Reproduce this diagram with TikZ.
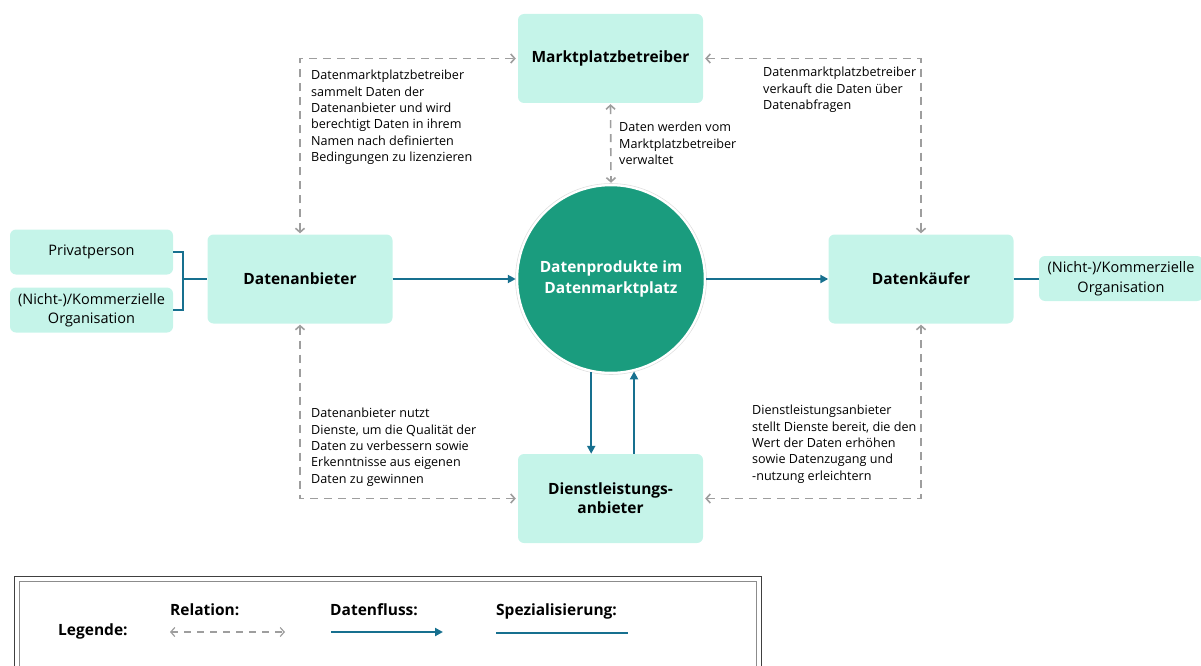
\documentclass[tikz,border=0pt]{standalone}
\usepackage{fontspec}
\setmainfont{Open Sans}
\usetikzlibrary{arrows.meta}
\definecolor{boxfill}{HTML}{C5F4E9}
\definecolor{circfill}{HTML}{1A9C7E}
\definecolor{flowc}{HTML}{17708F}
\definecolor{relc}{HTML}{9E9E9E}
\tikzset{
  ent/.style={fill=boxfill, rounded corners=6pt, minimum width=185pt, minimum height=89pt, inner sep=2pt, font=\fontsize{15.5}{19}\selectfont\bfseries, align=center},
  sub/.style={fill=boxfill, rounded corners=6pt, minimum width=163pt, minimum height=45pt, inner sep=1pt, font=\fontsize{14.5}{19.5}\selectfont, align=center},
  flow/.style={draw=flowc, line width=2pt, -{Triangle[length=8pt,width=8pt]}},
  spec/.style={draw=flowc, line width=2pt},
  rel/.style={draw=relc, line width=1.6pt, dash pattern=on 8pt off 6pt, {Straight Barb[length=4pt,width=9pt]}-{Straight Barb[length=4pt,width=9pt]}},
  note/.style={anchor=north west, align=left, inner sep=0pt, font=\fontsize{12.6}{16.4}\selectfont},
  leg/.style={anchor=base west, inner sep=0pt, font=\fontsize{15.5}{18}\selectfont\bfseries}
}
\begin{document}
\begin{tikzpicture}[x=1pt,y=-1pt]
\useasboundingbox (0,0) rectangle (1201,666);
\clip (0,0) rectangle (1201,666);
% main nodes
\node[ent] (mkt) at (610.5,58.5) {Marktplatzbetreiber};
\node[ent] (anb) at (300,279) {Datenanbieter};
\node[ent] (kae) at (921,279) {Datenkäufer};
\node[ent] (dla) at (610.5,498.5) {Dienstleistungs-\\anbieter};
\node[circle, fill=circfill, draw=white, line width=2.5pt, minimum size=188pt, inner sep=0pt,
      font=\fontsize{15.5}{21.5}\selectfont\bfseries, text=white, align=center] (circ) at (611,279) {Datenprodukte im\\Datenmarktplatz};
\draw[black!12, line width=0.6pt] (circ.center) circle (95.5pt);
% sub nodes
\node[sub] (priv) at (91.5,252) {Privatperson};
\node[sub] (orgl) at (91.5,310) {(Nicht-)/Kommerzielle\\Organisation};
\node[sub, minimum width=164pt] (orgr) at (1121,278.5) {(Nicht-)/Kommerzielle\\Organisation};
% specialisation bracket
\coordinate (br) at (183,279);
\draw[spec] (priv.east) -| (br) |- (orgl.east);
\draw[spec] (br) -- (anb.west);
\draw[spec] (kae.east) -- (kae.east -| orgr.west);
% data flow
\draw[flow] (anb.east) -- (circ.west);
\draw[flow] (circ.east) -- (kae.west);
\draw[flow] (circ.-102.4) -- (circ.-102.4 |- dla.north);
\draw[flow] (circ.-76.9 |- dla.north) -- (circ.-76.9);
% relations
\draw[rel, shorten <=1pt, shorten >=2pt] (anb.north) |- (mkt.west);
\draw[rel, shorten <=2pt, shorten >=1pt] (mkt.east) -| (kae.north);
\draw[rel, shorten <=1pt, shorten >=1pt] (mkt.south) -- (circ.north);
\draw[rel, shorten <=1pt, shorten >=2pt] (anb.south) |- (dla.west);
\draw[rel, shorten <=2pt, shorten >=1pt] (dla.east) -| (kae.south);
% notes
\node[note] (n1) at (311,70) {Datenmarktplatzbetreiber\\sammelt Daten der\\Datenanbieter und wird\\berechtigt Daten in ihrem\\Namen nach definierten\\Bedingungen zu lizenzieren};
\node[note] (n2) at (619,122) {Daten werden vom\\Marktplatzbetreiber\\verwaltet};
\node[note] (n3) at (763,67) {Datenmarktplatzbetreiber\\verkauft die Daten über\\Datenabfragen};
\node[note] (n4) at (311,408) {Datenanbieter nutzt\\Dienste, um die Qualität der\\Daten zu verbessern sowie\\Erkenntnisse aus eigenen\\Daten zu gewinnen};
\node[note] (n5) at (752,405) {Dienstleistungsanbieter\\stellt Dienste bereit, die den\\Wert der Daten erhöhen\\sowie Datenzugang und\\-nutzung erleichtern};
% legend
\draw[black!75, line width=1pt] (14,576) rectangle (761,700);
\draw[black!45, line width=0.8pt] (19,581) rectangle (756,700);
\node[leg] (lg) at (58,635) {Legende:};
\node[leg] (lr) at (170,615) {Relation:};
\node[leg] (lf) at (330,615) {Datenfluss:};
\node[leg] (ls) at (496,615) {Spezialisierung:};
\coordinate (r1) at (170,632); \coordinate (r2) at (285,632);
\coordinate (f1) at (331,632); \coordinate (f2) at (443,632);
\coordinate (s1) at (496,633); \coordinate (s2) at (628,633);
\draw[rel, line width=1.2pt, dash pattern=on 7pt off 6pt] (r1) -- (r2);
\draw[flow] (f1) -- (f2);
\draw[spec, line width=1.5pt] (s1) -- (s2);
\end{tikzpicture}
\end{document}
